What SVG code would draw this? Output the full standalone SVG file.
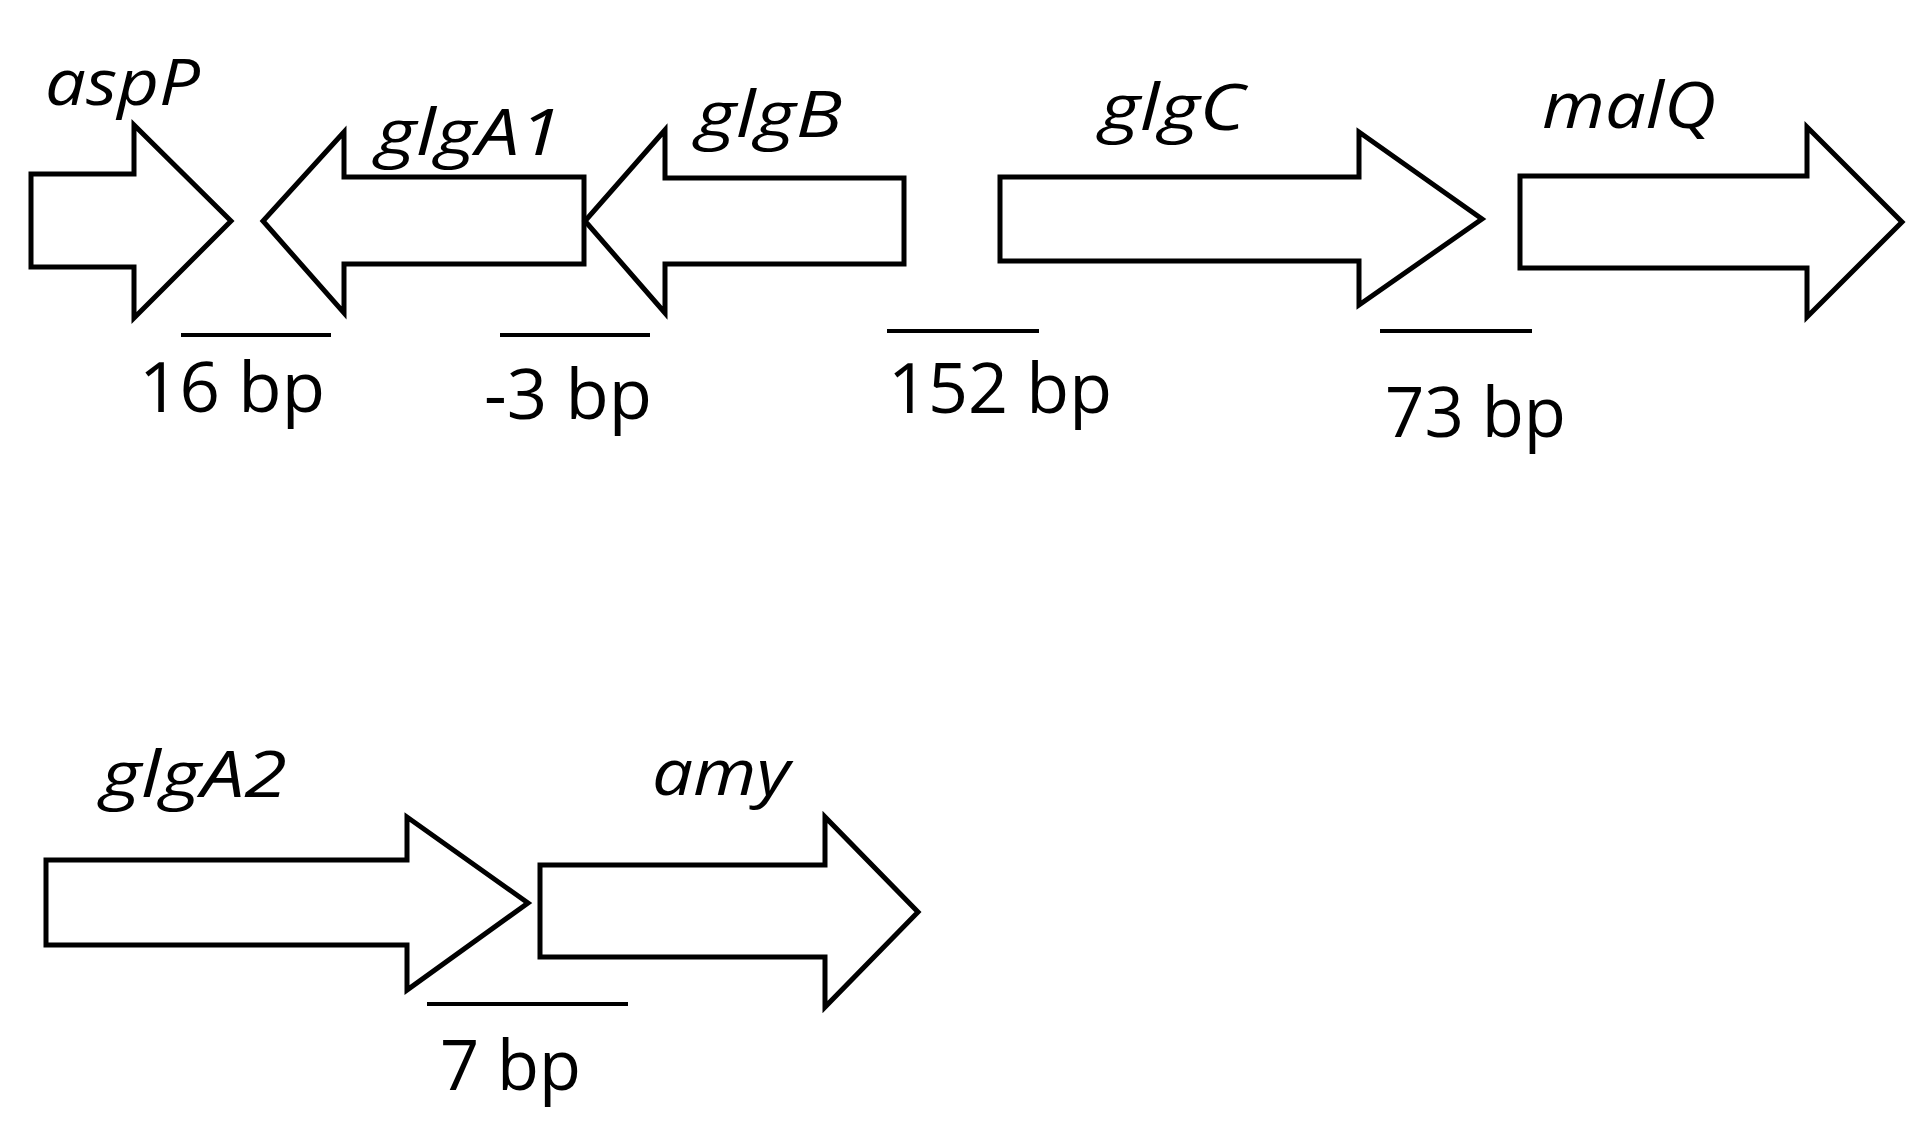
<svg xmlns="http://www.w3.org/2000/svg" width="1923" height="1123" viewBox="0 0 1923 1123">
<style>
.gene{fill:#fff;stroke:#000;stroke-width:5;stroke-linejoin:miter}
.bar{stroke:#000;stroke-width:4}
.name{font-family:"Open Sans","Noto Sans",sans-serif;font-style:italic;font-size:64px;fill:#000}
.bp{font-family:"Open Sans","Noto Sans",sans-serif;font-size:70px;fill:#000}
</style>
<rect width="1923" height="1123" fill="#fff"/>
<g id="aspP">
<path class="gene" d="M31,174 H134 V125 L231,221 L134,318 V267 H31 Z"/>
<text class="name" x="45" y="105" textLength="155" lengthAdjust="spacingAndGlyphs">aspP</text>
</g>
<g id="glgA1">
<path class="gene" d="M584,177 H344 V132 L263,221 L344,313 V264 H584 Z"/>
<text class="name" x="376" y="155" textLength="186" lengthAdjust="spacingAndGlyphs">glgA1</text>
</g>
<g id="glgB">
<path class="gene" d="M904,178 H665 V130 L585,221 L665,313 V264 H904 Z"/>
<text class="name" x="696" y="137" textLength="146" lengthAdjust="spacingAndGlyphs">glgB</text>
</g>
<g id="glgC">
<path class="gene" d="M1000,177 H1359 V132 L1482,219 L1359,305 V261 H1000 Z"/>
<text class="name" x="1100" y="130" textLength="145" lengthAdjust="spacingAndGlyphs">glgC</text>
</g>
<g id="malQ">
<path class="gene" d="M1520,176 H1807 V127 L1902,222 L1807,317 V268 H1520 Z"/>
<text class="name" x="1542" y="128" textLength="174" lengthAdjust="spacingAndGlyphs">malQ</text>
</g>
<g id="glgA2">
<path class="gene" d="M46,860 H407 V817 L528,903 L407,990 V945 H46 Z"/>
<text class="name" x="101" y="797" textLength="186" lengthAdjust="spacingAndGlyphs">glgA2</text>
</g>
<g id="amy">
<path class="gene" d="M540,865 H825 V817 L918,912 L825,1007 V957 H540 Z"/>
<text class="name" x="652" y="795" textLength="138" lengthAdjust="spacingAndGlyphs">amy</text>
</g>
<g id="spacers">
<line class="bar" x1="181" y1="335" x2="331" y2="335"/>
<text class="bp" x="139" y="412" textLength="186" lengthAdjust="spacingAndGlyphs">16 bp</text>
<line class="bar" x1="500" y1="335" x2="650" y2="335"/>
<text class="bp" x="484" y="419" textLength="168" lengthAdjust="spacingAndGlyphs">-3 bp</text>
<line class="bar" x1="887" y1="331" x2="1039" y2="331"/>
<text class="bp" x="888" y="413" textLength="224" lengthAdjust="spacingAndGlyphs">152 bp</text>
<line class="bar" x1="1380" y1="331" x2="1532" y2="331"/>
<text class="bp" x="1385" y="437" textLength="181" lengthAdjust="spacingAndGlyphs">73 bp</text>
<line class="bar" x1="427" y1="1004" x2="628" y2="1004"/>
<text class="bp" x="440" y="1090" textLength="141" lengthAdjust="spacingAndGlyphs">7 bp</text>
</g>
</svg>
